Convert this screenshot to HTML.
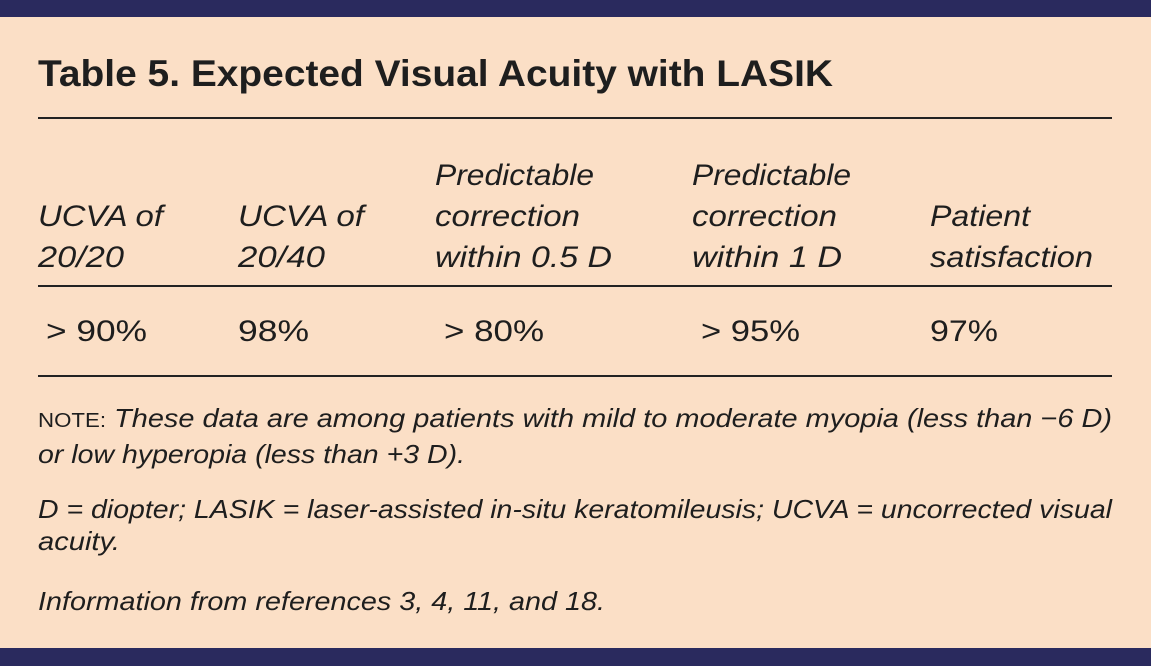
<!DOCTYPE html>
<html><head><meta charset="utf-8"><style>
html,body{margin:0;padding:0;background:#fbdfc6;}
svg{display:block;}
text{font-family:"Liberation Sans",sans-serif;fill:#1e1e1e;}
.h{font-style:italic;font-size:30px;}
.v{font-size:30px;}
.n{font-style:italic;font-size:26px;}
</style></head><body>
<svg width="1151" height="666" viewBox="0 0 1151 666" xmlns="http://www.w3.org/2000/svg">
<rect x="0" y="0" width="1151" height="666" fill="#fbdfc6"/>
<rect x="0" y="0" width="1151" height="17" fill="#2a2a5e"/>
<rect x="0" y="648" width="1151" height="18" fill="#2a2a5e"/>
<text x="38" y="86" font-size="37" font-weight="bold" textLength="795" lengthAdjust="spacingAndGlyphs">Table 5. Expected Visual Acuity with LASIK</text>
<rect x="38" y="117" width="1074" height="2" fill="#222"/>
<text class="h" x="435" y="185" textLength="159" lengthAdjust="spacingAndGlyphs">Predictable</text>
<text class="h" x="692" y="185" textLength="159" lengthAdjust="spacingAndGlyphs">Predictable</text>
<text class="h" x="38" y="226" textLength="125" lengthAdjust="spacingAndGlyphs">UCVA of</text>
<text class="h" x="238" y="226" textLength="126" lengthAdjust="spacingAndGlyphs">UCVA of</text>
<text class="h" x="435" y="226" textLength="145" lengthAdjust="spacingAndGlyphs">correction</text>
<text class="h" x="692" y="226" textLength="145" lengthAdjust="spacingAndGlyphs">correction</text>
<text class="h" x="930" y="226" textLength="100" lengthAdjust="spacingAndGlyphs">Patient</text>
<text class="h" x="38" y="267" textLength="86" lengthAdjust="spacingAndGlyphs">20/20</text>
<text class="h" x="238" y="267" textLength="87" lengthAdjust="spacingAndGlyphs">20/40</text>
<text class="h" x="435" y="267" textLength="177" lengthAdjust="spacingAndGlyphs">within 0.5 D</text>
<text class="h" x="692" y="267" textLength="150" lengthAdjust="spacingAndGlyphs">within 1 D</text>
<text class="h" x="930" y="267" textLength="163" lengthAdjust="spacingAndGlyphs">satisfaction</text>
<rect x="38" y="285" width="1074" height="2" fill="#222"/>
<text class="v" x="46" y="341" textLength="101" lengthAdjust="spacingAndGlyphs">&gt; 90%</text>
<text class="v" x="238" y="341" textLength="71" lengthAdjust="spacingAndGlyphs">98%</text>
<text class="v" x="444" y="341" textLength="100" lengthAdjust="spacingAndGlyphs">&gt; 80%</text>
<text class="v" x="701" y="341" textLength="99" lengthAdjust="spacingAndGlyphs">&gt; 95%</text>
<text class="v" x="930" y="341" textLength="68" lengthAdjust="spacingAndGlyphs">97%</text>
<rect x="38" y="375" width="1074" height="2" fill="#222"/>
<text class="n" x="38" y="427" textLength="1074" lengthAdjust="spacingAndGlyphs"><tspan font-style="normal" font-size="20">NOTE:</tspan> These data are among patients with mild to moderate myopia (less than −6 D)</text>
<text class="n" x="38" y="463" textLength="427" lengthAdjust="spacingAndGlyphs">or low hyperopia (less than +3 D).</text>
<text class="n" x="38" y="518" textLength="1074" lengthAdjust="spacingAndGlyphs">D = diopter; LASIK = laser-assisted in-situ keratomileusis; UCVA = uncorrected visual</text>
<text class="n" x="38" y="550" textLength="82" lengthAdjust="spacingAndGlyphs">acuity.</text>
<text class="n" x="38" y="610" textLength="567" lengthAdjust="spacingAndGlyphs">Information from references 3, 4, 11, and 18.</text>
</svg>
</body></html>
